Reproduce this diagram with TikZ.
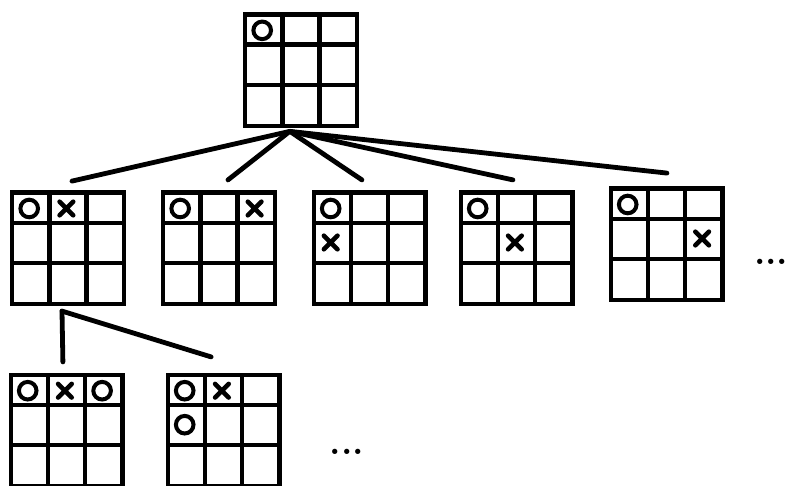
\documentclass[tikz,border=0pt]{standalone}
\usetikzlibrary{calc}

% one board: name / centre / marks as col/row/kind
\newcommand\tttboard[3]{%
  \node[board] (#1) at (#2) {};
  \foreach \f in {0.27,0.63}
    \draw[gridline] ($(#1.north west)!\f!(#1.south west)$) -- ($(#1.north east)!\f!(#1.south east)$);
  \foreach \f in {0.333,0.667}
    \draw[gridline] ($(#1.north west)!\f!(#1.north east)$) -- ($(#1.south west)!\f!(#1.south east)$);
  \foreach \c/\r/\m in {#3}{
    \pgfmathsetmacro\dx{(\c-2)*0.93-0.04}
    \pgfmathsetmacro\dy{\r==1 ? 1.0 : (\r==2 ? 0.15 : -0.88)}
    \coordinate (#1-\c\r) at ($(#1.center)+(\dx,\dy)$);
    \if\m o
      \draw[ostroke] (#1-\c\r) circle (0.22);
    \else
      \draw[xstroke] ($(#1-\c\r)+(-0.17,-0.17)$) -- ($(#1-\c\r)+(0.17,0.17)$)
                     ($(#1-\c\r)+(-0.17,0.17)$) -- ($(#1-\c\r)+(0.17,-0.17)$);
    \fi
  }
}

\begin{document}
\begin{tikzpicture}[
    board/.style={draw, line width=0.11cm, minimum size=2.79cm, inner sep=0, outer sep=0},
    gridline/.style={line width=0.11cm},
    ostroke/.style={line width=0.1cm},
    xstroke/.style={line width=0.115cm, line cap=round},
    edge/.style={line width=0.12cm, line cap=round},
    dots/.style={font=\fontsize{26}{30}\selectfont\bfseries, inner sep=0}]
  \useasboundingbox (0,0) rectangle (19.725,12.125);

  % boards
  \tttboard{root}{7.525,10.366}{1/1/o}
  \tttboard{c1}{1.7,5.9125}{1/1/o, 2/1/x}
  \tttboard{c2}{5.475,5.9125}{1/1/o, 3/1/x}
  \tttboard{c3}{9.2375,5.9125}{1/1/o, 1/2/x}
  \tttboard{c4}{12.9125,5.9125}{1/1/o, 2/2/x}
  \tttboard{c5}{16.6625,6.0125}{1/1/o, 3/2/x}
  \tttboard{g1}{1.6625,1.3575}{1/1/o, 2/1/x, 3/1/o}
  \tttboard{g2}{5.5875,1.3575}{1/1/o, 2/1/x, 1/2/o}

  % connectors
  \coordinate (root-foot) at ($(root.south)+(-0.28,-0.13)$);
  \foreach \n/\dx/\dy in {c1/0.1/0.29, c2/0.225/0.32, c3/-0.19/0.32, c4/-0.09/0.32, c5/0.01/0.39}{
    \coordinate (\n-top) at ($(\n.north)+(\dx,\dy)$);
    \draw[edge] (root-foot) -- (\n-top);
  }
  \coordinate (c1-foot) at ($(c1.south)+(-0.15,-0.17)$);
  \foreach \n/\dx/\dy in {g1/-0.09/0.325, g2/-0.31/0.45}{
    \coordinate (\n-top) at ($(\n.north)+(\dx,\dy)$);
    \draw[edge] (c1-foot) -- (\n-top);
  }

  \node[dots] (more-c) at (19.28,5.575) {...};
  \node[dots] (more-g) at (8.675,0.825) {...};
\end{tikzpicture}
\end{document}
